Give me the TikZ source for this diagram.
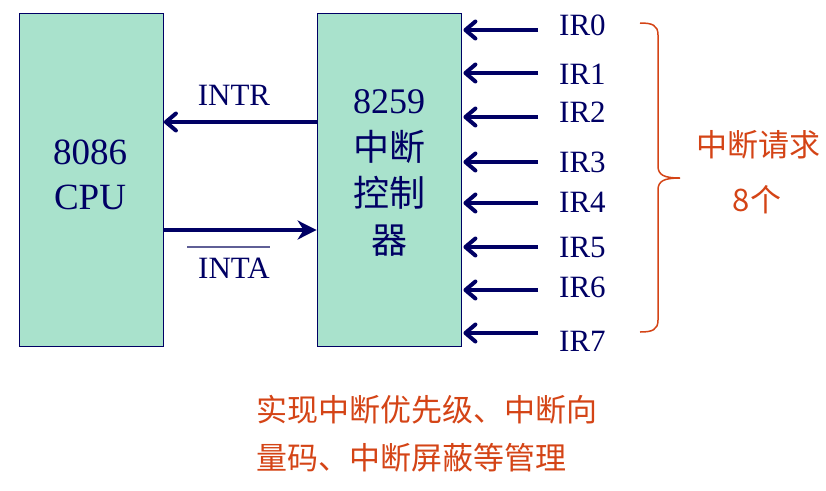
\documentclass[tikz,border=0pt]{standalone}
\usepackage{fontspec}
\setmainfont{Liberation Serif}
\newfontfamily\cjk{Noto Sans CJK SC}
\usetikzlibrary{arrows.meta}
\definecolor{chipgreen}{RGB}{169,226,204}
\definecolor{navy}{RGB}{0,0,100}
\definecolor{notered}{RGB}{212,68,22}
\definecolor{barblue}{RGB}{95,95,150}

\begin{document}
\begin{tikzpicture}[x=1pt,y=-1pt,>={Straight Barb[length=10pt,width=17pt,round]},
  every node/.style={inner sep=0pt,text=navy}]
  \def\boxh{333}
  \def\boxw{144}
  \tikzset{
    chip/.style={draw=navy,line width=0.8pt,fill=chipgreen,minimum width=\boxw pt,minimum height=\boxh pt},
    sig/.style={draw=navy,line width=4pt},
    lab/.style={font=\rmfamily\fontsize{31}{31}\selectfont},
    chiptext/.style={align=center},
    note/.style={text=notered,font=\cjk\fontsize{31}{31}\selectfont}
  }
  \useasboundingbox (0,0) rectangle (826,490);
  % 两个芯片
  \node[chip] (cpu) at (91.5,179.5) {};
  \node[chip] (pic) at (389,179.5) {};
  \node[chiptext,font=\rmfamily\fontsize{37}{45}\selectfont] (cputext) at (90,175) {8086\\CPU};
  \node[chiptext,font=\rmfamily\fontsize{36}{46.5}\selectfont] (pictext) at (389,173)
    {8259\\{\cjk 中断}\\{\cjk 控制}\\{\cjk 器}};
  % INTR、INTA
  \coordinate (intry) at (0,122);
  \coordinate (intay) at (0,230);
  \draw[sig,->] (pic.west |- intry) -- (cpu.east |- intry);
  \draw[sig,-{Stealth[length=19pt,width=19pt,inset=6pt]}] (cpu.east |- intay) -- (pic.west |- intay);
  \node[lab] (intr) at (234,95) {INTR};
  \node[lab] (inta) at (234,268) {INTA};
  \draw[barblue,line width=2pt] ([xshift=-11pt,yshift=11pt]inta.north west) -- ([yshift=11pt]inta.north east);
  % IR0--IR7
  \foreach \i/\ay/\ly in {0/30/25,1/73/74,2/117/112,3/162/162,4/203/202,5/247/247,6/290/287,7/333/341} {
    \coordinate (src\i) at (538,\ay);
    \node[lab,anchor=west] (ir\i) at (559,\ly) {IR\i};
    \draw[sig,->] (src\i) -- ([xshift=2pt]pic.east |- src\i);
  }
  % 括号与说明
  \draw[notered,line width=1.5pt] (640,23) .. controls (652,23) and (658,25) .. (658,35) -- (658,166)
    .. controls (658,175) and (664,178) .. (680,178)
    .. controls (664,178) and (658,181) .. (658,190) -- (658,320)
    .. controls (658,330) and (652,332) .. (640,332);
  \node[note] (req) at (758,145) {中断请求};
  \node[note] (num) at (757,200) {8个};
  \node[note,anchor=west] (func1) at (256,410) {实现中断优先级、中断向};
  \node[note,anchor=west] (func2) at (256,458) {量码、中断屏蔽等管理};
\end{tikzpicture}
\end{document}
